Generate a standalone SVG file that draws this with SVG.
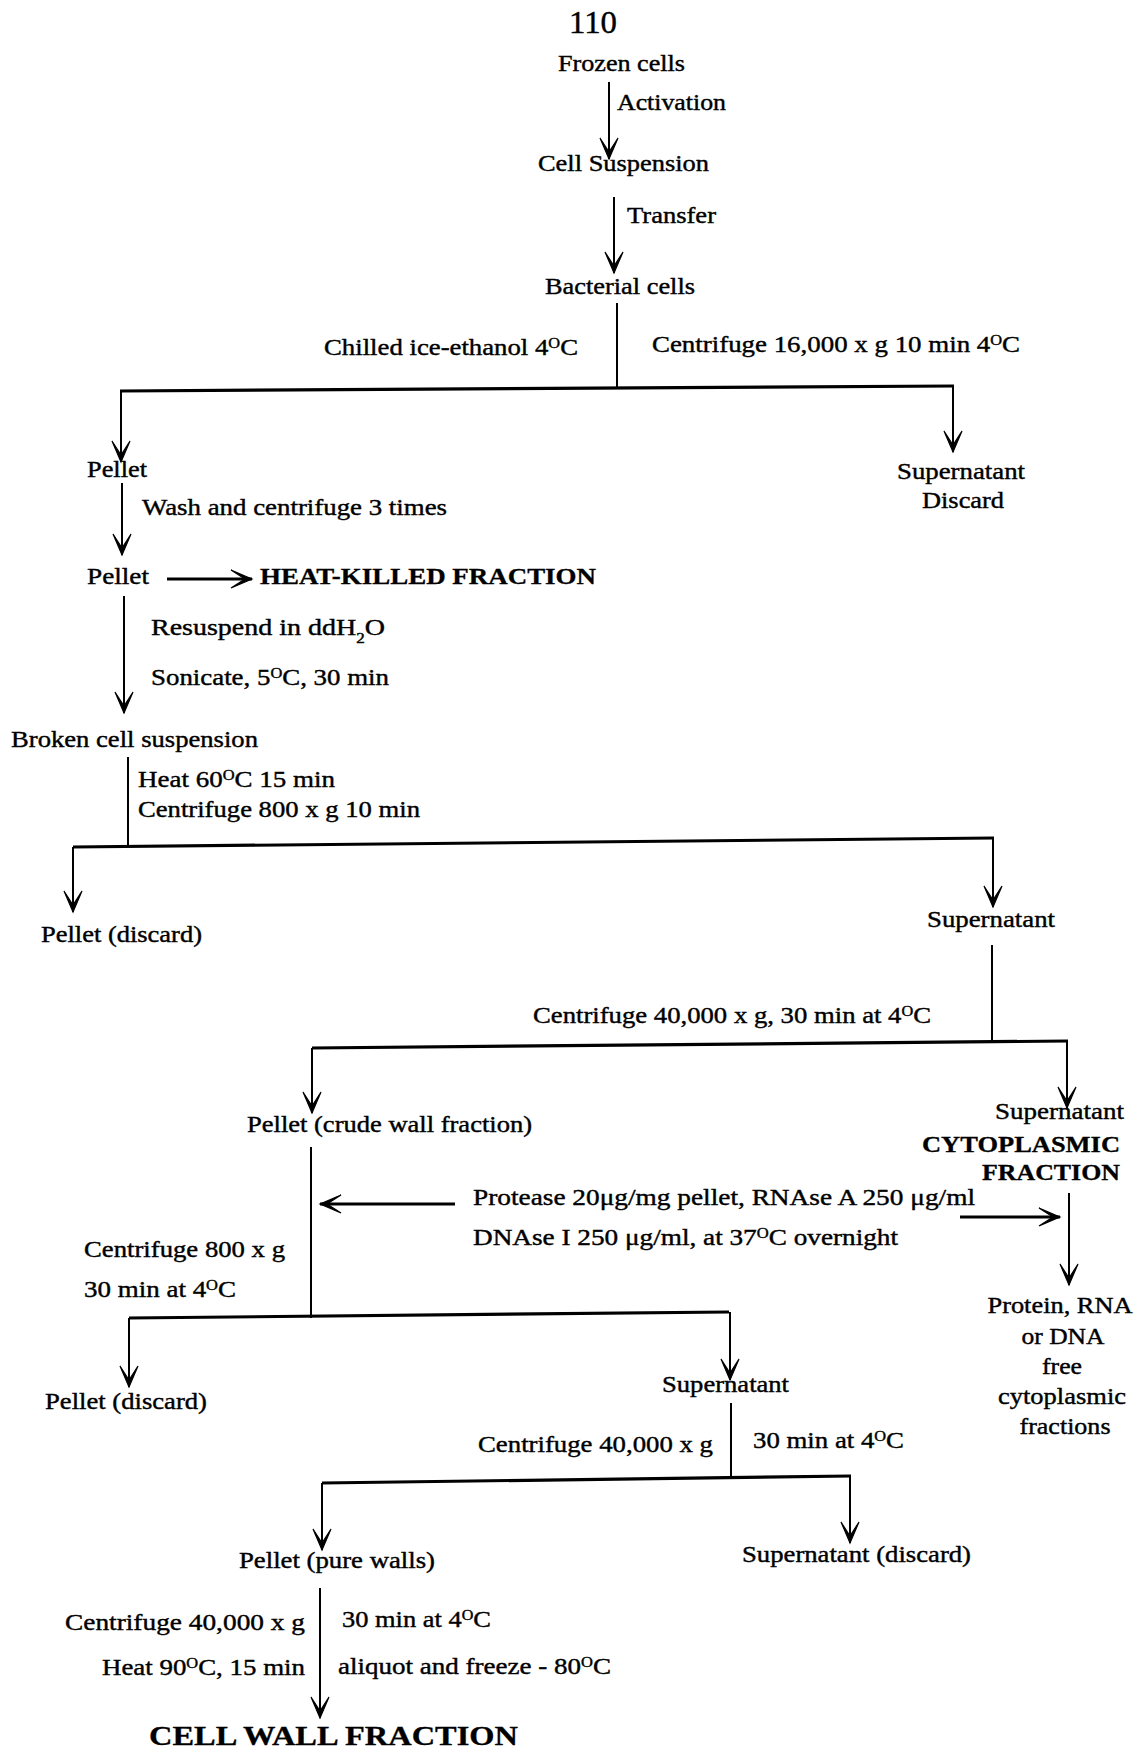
<svg xmlns="http://www.w3.org/2000/svg" width="1136" height="1753" viewBox="0 0 1136 1753">
<style>
text{font-family:"Liberation Serif","Times New Roman",serif;font-size:23px;fill:#000;stroke:#000;stroke-width:0.4}
.b{font-weight:bold;stroke-width:0.3}
.sup{font-size:14px;baseline-shift:super}
.sub{font-size:14px;baseline-shift:sub}
.ln{stroke:#000;stroke-width:2;fill:none}
.hb{stroke:#000;stroke-width:3.2;fill:none}
.ar{stroke:#000;stroke-width:2;fill:none;marker-end:url(#ah)}
.arb{stroke:#000;stroke-width:3;fill:none;marker-end:url(#ah)}
</style>
<defs>
<marker id="ah" markerUnits="userSpaceOnUse" viewBox="-24 -12 28 24" refX="0" refY="0" markerWidth="28" markerHeight="24" orient="auto" overflow="visible">
<path d="M0,0 L-21,-9 L-7,0 L-21,9 Z" fill="#000" stroke="#000" stroke-width="1.2" stroke-linejoin="miter"/>
</marker>
</defs>
<rect width="1136" height="1753" fill="#fff"/>
<g id="connectors">
<line class="ar" x1="609" y1="82" x2="609" y2="159"/>
<line class="ar" x1="614" y1="197" x2="614" y2="273"/>
<line class="ln" x1="617" y1="303" x2="617" y2="389"/>
<line class="hb" x1="120" y1="391" x2="954" y2="386"/>
<line class="ar" x1="121" y1="391" x2="121" y2="462"/>
<line class="ar" x1="953" y1="386" x2="953" y2="452"/>
<line class="ar" x1="122" y1="483" x2="122" y2="555"/>
<line class="arb" x1="167" y1="579" x2="252" y2="579"/>
<line class="ar" x1="124" y1="596" x2="124" y2="713"/>
<line class="ln" x1="128" y1="757" x2="128" y2="845"/>
<line class="hb" x1="73" y1="847" x2="994" y2="838"/>
<line class="ar" x1="73" y1="847" x2="73" y2="912"/>
<line class="ar" x1="993" y1="838" x2="993" y2="907"/>
<line class="ln" x1="992" y1="945" x2="992" y2="1041"/>
<line class="hb" x1="312" y1="1048" x2="1068" y2="1041"/>
<line class="ar" x1="312" y1="1048" x2="312" y2="1113"/>
<line class="ar" x1="1067" y1="1041" x2="1067" y2="1108"/>
<line class="ln" x1="311" y1="1147" x2="311" y2="1318"/>
<line class="arb" x1="455" y1="1204" x2="320" y2="1204"/>
<line class="arb" x1="960" y1="1217" x2="1060" y2="1217"/>
<line class="ar" x1="1069" y1="1193" x2="1069" y2="1285"/>
<line class="hb" x1="129" y1="1318" x2="729" y2="1312"/>
<line class="ar" x1="129" y1="1318" x2="129" y2="1387"/>
<line class="ar" x1="730" y1="1312" x2="730" y2="1380"/>
<line class="ln" x1="731" y1="1403" x2="731" y2="1477"/>
<line class="hb" x1="322" y1="1483" x2="851" y2="1476"/>
<line class="ar" x1="322" y1="1483" x2="322" y2="1550"/>
<line class="ar" x1="850" y1="1476" x2="850" y2="1543"/>
<line class="ar" x1="320" y1="1588" x2="320" y2="1718"/>
</g>
<g id="page-number"><text x="569" y="33" style="font-size:31px" textLength="48" lengthAdjust="spacingAndGlyphs">110</text></g>
<g id="frozen-cells"><text x="558" y="71" textLength="127" lengthAdjust="spacingAndGlyphs">Frozen cells</text></g>
<g id="activation"><text x="617" y="110" textLength="109" lengthAdjust="spacingAndGlyphs">Activation</text></g>
<g id="cell-suspension"><text x="538" y="171" textLength="171" lengthAdjust="spacingAndGlyphs">Cell Suspension</text></g>
<g id="transfer"><text x="627" y="223" textLength="89" lengthAdjust="spacingAndGlyphs">Transfer</text></g>
<g id="bacterial-cells"><text x="545" y="294" textLength="150" lengthAdjust="spacingAndGlyphs">Bacterial cells</text></g>
<g id="chilled"><text x="324" y="355" textLength="254" lengthAdjust="spacingAndGlyphs">Chilled ice-ethanol 4<tspan class="sup">O</tspan>C</text></g>
<g id="centrifuge-16000"><text x="652" y="352" textLength="368" lengthAdjust="spacingAndGlyphs">Centrifuge 16,000 x g 10 min 4<tspan class="sup">O</tspan>C</text></g>
<g id="pellet-1"><text x="87" y="477" textLength="60" lengthAdjust="spacingAndGlyphs">Pellet</text></g>
<g id="supernatant-discard-1"><text x="897" y="479" textLength="128" lengthAdjust="spacingAndGlyphs">Supernatant</text><text x="922" y="508" textLength="82" lengthAdjust="spacingAndGlyphs">Discard</text></g>
<g id="wash"><text x="142" y="515" textLength="305" lengthAdjust="spacingAndGlyphs">Wash and centrifuge 3 times</text></g>
<g id="pellet-2"><text x="87" y="584" textLength="62" lengthAdjust="spacingAndGlyphs">Pellet</text></g>
<g id="heat-killed"><text class="b" x="260" y="584" textLength="336" lengthAdjust="spacingAndGlyphs">HEAT-KILLED FRACTION</text></g>
<g id="resuspend"><text x="151" y="635" textLength="234" lengthAdjust="spacingAndGlyphs">Resuspend in  ddH<tspan class="sub">2</tspan>O</text></g>
<g id="sonicate"><text x="151" y="685" textLength="238" lengthAdjust="spacingAndGlyphs">Sonicate, 5<tspan class="sup">O</tspan>C, 30 min</text></g>
<g id="broken-cell"><text x="11" y="747" textLength="247" lengthAdjust="spacingAndGlyphs">Broken cell suspension</text></g>
<g id="heat60"><text x="138" y="787" textLength="197" lengthAdjust="spacingAndGlyphs">Heat 60<tspan class="sup">O</tspan>C 15 min</text><text x="138" y="817" textLength="282" lengthAdjust="spacingAndGlyphs">Centrifuge 800 x g 10 min</text></g>
<g id="pellet-discard-1"><text x="41" y="942" textLength="161" lengthAdjust="spacingAndGlyphs">Pellet (discard)</text></g>
<g id="supernatant-2"><text x="927" y="927" textLength="128" lengthAdjust="spacingAndGlyphs">Supernatant</text></g>
<g id="centrifuge-40000-a"><text x="533" y="1023" textLength="398" lengthAdjust="spacingAndGlyphs">Centrifuge 40,000 x g, 30 min at 4<tspan class="sup">O</tspan>C</text></g>
<g id="pellet-crude"><text x="247" y="1132" textLength="285" lengthAdjust="spacingAndGlyphs">Pellet (crude wall fraction)</text></g>
<g id="cytoplasmic"><text x="995" y="1119" textLength="129" lengthAdjust="spacingAndGlyphs">Supernatant</text><text class="b" x="922" y="1152" textLength="198" lengthAdjust="spacingAndGlyphs">CYTOPLASMIC</text><text class="b" x="982" y="1180" textLength="138" lengthAdjust="spacingAndGlyphs">FRACTION</text></g>
<g id="enzymes"><text x="473" y="1205" textLength="502" lengthAdjust="spacingAndGlyphs">Protease 20μg/mg pellet,  RNAse A 250 μg/ml</text><text x="473" y="1245" textLength="425" lengthAdjust="spacingAndGlyphs">DNAse I  250 μg/ml, at 37<tspan class="sup">O</tspan>C overnight</text></g>
<g id="centrifuge-800"><text x="84" y="1257" textLength="201" lengthAdjust="spacingAndGlyphs">Centrifuge 800 x g</text><text x="84" y="1297" textLength="152" lengthAdjust="spacingAndGlyphs">30 min at 4<tspan class="sup">O</tspan>C</text></g>
<g id="free-cytoplasmic" text-anchor="middle"><text x="1060" y="1313" textLength="145" lengthAdjust="spacingAndGlyphs">Protein, RNA</text><text x="1063" y="1344" textLength="83" lengthAdjust="spacingAndGlyphs">or DNA</text><text x="1062" y="1374" textLength="40" lengthAdjust="spacingAndGlyphs">free</text><text x="1062" y="1404" textLength="128" lengthAdjust="spacingAndGlyphs">cytoplasmic</text><text x="1065" y="1434" textLength="91" lengthAdjust="spacingAndGlyphs">fractions</text></g>
<g id="pellet-discard-2"><text x="45" y="1409" textLength="162" lengthAdjust="spacingAndGlyphs">Pellet (discard)</text></g>
<g id="supernatant-3"><text x="662" y="1392" textLength="127" lengthAdjust="spacingAndGlyphs">Supernatant</text></g>
<g id="centrifuge-40000-b"><text x="478" y="1452" textLength="235" lengthAdjust="spacingAndGlyphs">Centrifuge 40,000 x g</text><text x="753" y="1448" textLength="151" lengthAdjust="spacingAndGlyphs">30 min at 4<tspan class="sup">O</tspan>C</text></g>
<g id="pellet-pure"><text x="239" y="1568" textLength="196" lengthAdjust="spacingAndGlyphs">Pellet (pure walls)</text></g>
<g id="supernatant-discard-2"><text x="742" y="1562" textLength="229" lengthAdjust="spacingAndGlyphs">Supernatant (discard)</text></g>
<g id="final-steps"><text x="65" y="1630" textLength="240" lengthAdjust="spacingAndGlyphs">Centrifuge 40,000 x g</text><text x="342" y="1627" textLength="149" lengthAdjust="spacingAndGlyphs">30 min at 4<tspan class="sup">O</tspan>C</text><text x="102" y="1675" textLength="203" lengthAdjust="spacingAndGlyphs">Heat 90<tspan class="sup">O</tspan>C, 15 min</text><text x="338" y="1674" textLength="273" lengthAdjust="spacingAndGlyphs">aliquot and freeze - 80<tspan class="sup">O</tspan>C</text></g>
<g id="cell-wall-fraction"><text class="b" x="149" y="1745" style="font-size:27px" textLength="369" lengthAdjust="spacingAndGlyphs">CELL WALL FRACTION</text></g>
</svg>
